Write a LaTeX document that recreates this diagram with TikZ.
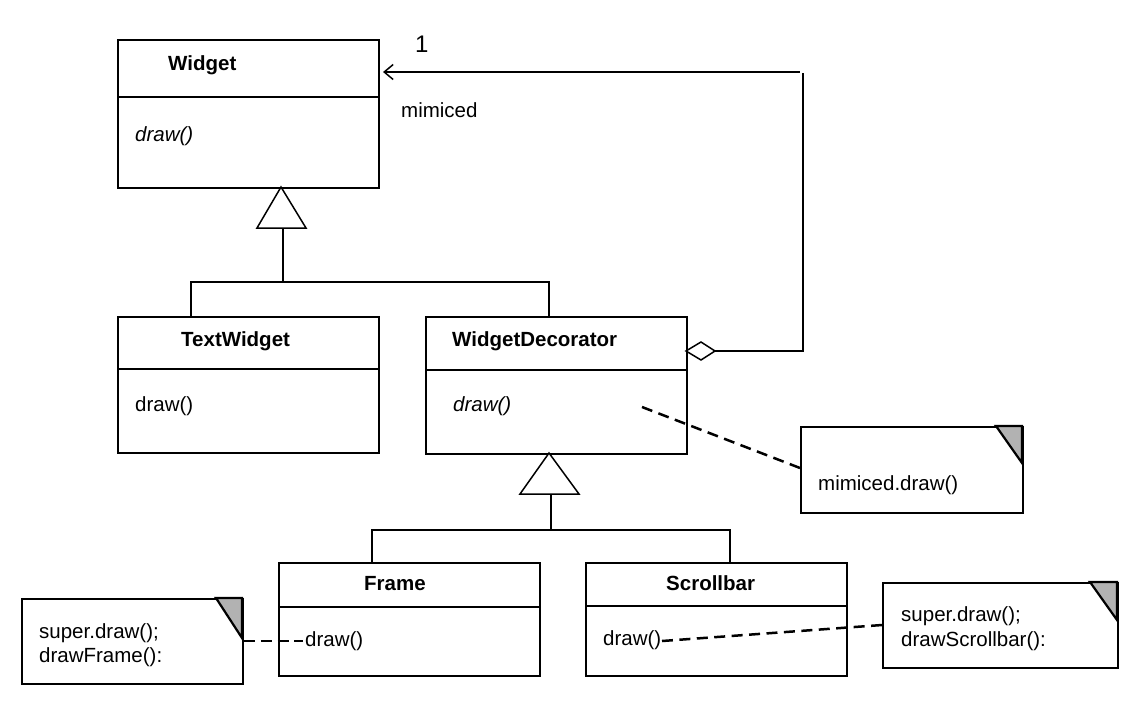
\documentclass[tikz,border=0pt]{standalone}
\usepackage{fontspec}
\setmainfont{Liberation Sans}
\usetikzlibrary{arrows.meta}
\definecolor{notegray}{RGB}{178,178,178}
\begin{document}
\begin{tikzpicture}[x=1pt,y=-1pt,
  every node/.style={font=\fontsize{20.5}{24}\selectfont},
  classbox/.style={draw, line width=2.2pt, rectangle, inner sep=0pt, anchor=north west},
  notebox/.style={draw, line width=2.2pt, rectangle, inner sep=0pt, anchor=north west},
  divider/.style={line width=2pt},
  conn/.style={line width=1.5pt},
  dashconn/.style={line width=2.5pt, dash pattern=on 11pt off #1},
  dashconn/.default=6pt,
  lbl/.style={anchor=base west, inner sep=0pt},
  bold/.style={lbl, font=\fontsize{20.5}{24}\selectfont\bfseries},
  ital/.style={lbl, font=\fontsize{20.5}{24}\selectfont\itshape},
  fold/.style={fill=notegray, draw, line width=2.2pt, line join=miter}
]
\useasboundingbox (0,0) rectangle (1137,702);

% ---- class boxes
\node[classbox, minimum width=261pt, minimum height=148pt] (widget) at (117,39) {};
\draw[divider] (117,97) -- (378,97);
\node[bold] (widgetname) at (168,70) {Widget};
\node[ital] (widgetdraw) at (135,141) {draw()};

\node[classbox, minimum width=261pt, minimum height=136pt] (textw) at (117,316) {};
\draw[divider] (117,369) -- (378,369);
\node[bold] (textwname) at (181,346) {TextWidget};
\node[lbl] (textwdraw) at (135,411) {draw()};

\node[classbox, minimum width=261pt, minimum height=137pt] (deco) at (425,316) {};
\draw[divider] (425,370) -- (686,370);
\node[bold] (deconame) at (452,346) {WidgetDecorator};
\node[ital] (decodraw) at (453,411) {draw()};

\node[classbox, minimum width=261pt, minimum height=113pt] (frame) at (278,562) {};
\draw[divider] (278,607) -- (541,607);
\node[bold] (framename) at (364,590) {Frame};
\node[lbl] (framedraw) at (305,646) {draw()};

\node[classbox, minimum width=261pt, minimum height=113pt] (scroll) at (585,562) {};
\draw[divider] (585,606) -- (846,606);
\node[bold] (scrollname) at (666,590) {Scrollbar};
\node[lbl] (scrolldraw) at (603,645) {draw()};

% ---- notes
\node[notebox, minimum width=222pt, minimum height=86pt] (note1) at (800,426) {};
\draw[fold] (996,426) -- (1022,426) -- (1022,463) -- cycle;
\node[lbl] (note1t) at (818,490) {mimiced.draw()};

\node[notebox, minimum width=221pt, minimum height=85pt] (note2) at (21,598) {};
\draw[fold] (216,598) -- (242,598) -- (242,638) -- cycle;
\node[lbl] (note2a) at (39,638) {super.draw();};
\node[lbl] (note2b) at (39,662) {drawFrame():};

\node[notebox, minimum width=235pt, minimum height=85pt] (note3) at (882,582) {};
\draw[fold] (1090,582) -- (1117,582) -- (1117,620) -- cycle;
\node[lbl] (note3a) at (901,621) {super.draw();};
\node[lbl] (note3b) at (901,646) {drawScrollbar():};

% ---- inheritance Widget
\coordinate (apex1) at (281,187);
\draw[conn, fill=white] (apex1) -- (257,228) -- (306,228) -- cycle;
\coordinate (b1) at (283,228);
\coordinate (j1) at (283,282);
\draw[conn] (b1) -- (j1);
\draw[conn] (textw.north -| 191,0) |- (j1) -| (deco.north -| 549,0);

% ---- inheritance WidgetDecorator
\coordinate (apex2) at (549,453);
\draw[conn, fill=white] (apex2) -- (520,494) -- (579,494) -- cycle;
\coordinate (b2) at (551,494);
\coordinate (j2) at (551,530);
\draw[conn] (b2) -- (j2);
\draw[conn] (frame.north -| 372,0) |- (j2) -| (scroll.north -| 730,0);

% ---- aggregation
\coordinate (dtip) at (686,351);
\coordinate (corner1) at (803,351);
\coordinate (corner2) at (803,72);
\coordinate (arrtip) at (383,72);
\draw[conn, fill=white] (dtip) -- (701,342) -- (715,351) -- (701,360) -- cycle;
\draw[conn] (715,351) -- (corner1) -- (803,73);
\draw[conn, -{Straight Barb[length=9pt,width=15pt,line width=1.5pt]}] (800,72) -- (arrtip);
\node[anchor=base west, inner sep=0pt, font=\fontsize{24}{28}\selectfont] (mult) at (415,52) {1};
\node[lbl] (role) at (401,117) {mimiced};

% ---- note links
\coordinate (d1) at (642,407);
\coordinate (d3) at (662,641);
\draw[dashconn=6.6pt] (note1.west |- 0,468) -- (d1);
\draw[dashconn=5.67pt] (note2.east |- 0,641) -- (303,641);
\draw[dashconn=6.47pt] (note3.west |- 0,625) -- (d3);
\end{tikzpicture}
\end{document}
